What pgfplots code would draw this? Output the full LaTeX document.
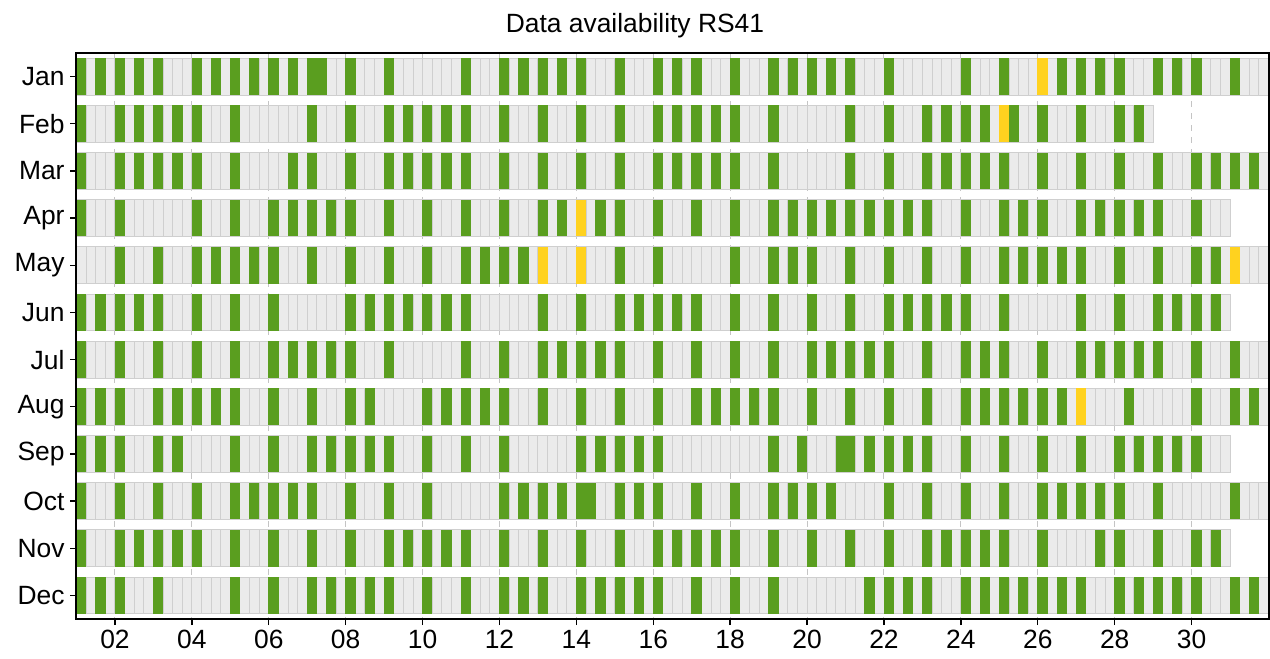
\documentclass[border=0pt]{standalone}
\usepackage{fontspec}
\setmainfont{Liberation Sans}
\usepackage{pgfplots}
\usepackage{pgfplotstable}
\pgfplotsset{compat=1.18}

\definecolor{okgreen}{HTML}{5A9E1F}
\definecolor{partyellow}{HTML}{FFD21F}
\definecolor{cellfill}{HTML}{EBEBEB}
\definecolor{celledge}{HTML}{CFCFCF}
\definecolor{gridgray}{HTML}{C4C4C4}

\def\slotw{4.80645pt}
\def\rowh{18.4pt}

\newcommand\defrowmark[2]{%
\pgfdeclareplotmark{#1}{%
  \pgfsetlinewidth{0.45pt}%
  \pgfsetfillcolor{cellfill}%
  \pgfsetstrokecolor{celledge}%
  \foreach \k in {1,...,#2}{%
    \pgfpathrectangle{\pgfpoint{(\k-1)*\slotw}{-0.5*\rowh}}{\pgfpoint{\slotw}{\rowh}}%
    \pgfusepath{fill,stroke}%
  }%
}}
\defrowmark{row124}{124}
\defrowmark{row120}{120}
\defrowmark{row112}{112}

\pgfdeclareplotmark{cell}{%
  \pgfpathrectangle{\pgfpoint{-0.5*\slotw-0.15pt}{-0.5*\rowh}}{\pgfpoint{\slotw+0.3pt}{\rowh}}%
  \pgfusepathqfill
}

\pgfplotstableread{
m s
1 100
2 96
4 52
5 48
5 52
5 120
8 104
}\partialtab

\pgfplotsset{
  okcell/.style={only marks, mark=cell, mark options={fill=okgreen, draw=none}},
}

\begin{document}
\begin{tikzpicture}
\useasboundingbox (-38.25pt,-20pt) rectangle (596.75pt,309.5pt);
\begin{axis}[
  at={(0,0)}, anchor=south west,
  scale only axis, width=596pt, height=283pt,
  xmin=1, xmax=32, ymin=0.5, ymax=12.5, y dir=reverse,
  xtick={2,4,...,30},
  xticklabels={02,04,06,08,10,12,14,16,18,20,22,24,26,28,30},
  ytick={1,...,12},
  yticklabels={Jan,Feb,Mar,Apr,May,Jun,Jul,Aug,Sep,Oct,Nov,Dec},
  tick align=outside, xtick pos=bottom, ytick pos=left,
  major tick length=3pt,
  every tick/.style={black, line width=0.7pt},
  tick label style={font=\fontsize{13.2}{15}\selectfont},
  xticklabel style={inner sep=2.5pt},
  yticklabel style={inner sep=2.8pt},
  xmajorgrids, major x grid style={dashed, gridgray, line width=0.5pt},
  axis line style={line width=1pt},
  clip=false,
]
% month rows (31, 30 and 28 days)
\addplot[only marks, mark=row124] coordinates {(1,1) (1,3) (1,5) (1,7) (1,8) (1,10) (1,12)};
\addplot[only marks, mark=row120] coordinates {(1,4) (1,6) (1,9) (1,11)};
\addplot[only marks, mark=row112] coordinates {(1,2)};

\addplot[okcell] table[x expr=1.125+\thisrow{s}/4, y expr=1, row sep=\\] {s\\0\\2\\4\\6\\8\\12\\14\\16\\18\\20\\22\\24\\25\\28\\32\\40\\44\\46\\48\\50\\52\\56\\60\\62\\64\\68\\72\\74\\76\\78\\80\\84\\92\\96\\102\\104\\106\\108\\112\\114\\116\\120\\};
\addplot[okcell] table[x expr=1.125+\thisrow{s}/4, y expr=2, row sep=\\] {s\\0\\4\\6\\8\\10\\12\\16\\24\\28\\32\\34\\36\\38\\40\\44\\48\\52\\56\\60\\62\\64\\66\\68\\72\\80\\84\\88\\90\\92\\94\\97\\100\\104\\108\\110\\};
\addplot[okcell] table[x expr=1.125+\thisrow{s}/4, y expr=3, row sep=\\] {s\\0\\4\\6\\8\\10\\12\\16\\22\\24\\28\\32\\34\\36\\38\\40\\44\\48\\52\\56\\60\\62\\64\\66\\68\\72\\80\\84\\88\\90\\92\\94\\96\\100\\104\\108\\112\\116\\118\\120\\122\\};
\addplot[okcell] table[x expr=1.125+\thisrow{s}/4, y expr=4, row sep=\\] {s\\0\\4\\12\\16\\20\\22\\24\\26\\28\\32\\36\\40\\44\\48\\50\\54\\56\\60\\64\\68\\72\\74\\76\\78\\80\\82\\84\\86\\88\\92\\96\\98\\100\\104\\106\\108\\110\\112\\116\\};
\addplot[okcell] table[x expr=1.125+\thisrow{s}/4, y expr=5, row sep=\\] {s\\4\\8\\12\\14\\16\\18\\20\\24\\28\\32\\36\\40\\42\\44\\46\\56\\60\\68\\72\\74\\76\\80\\84\\88\\92\\96\\98\\100\\102\\104\\108\\112\\116\\118\\};
\addplot[okcell] table[x expr=1.125+\thisrow{s}/4, y expr=6, row sep=\\] {s\\0\\2\\4\\6\\8\\12\\16\\20\\28\\30\\32\\34\\36\\38\\40\\48\\52\\56\\58\\60\\62\\64\\68\\72\\76\\80\\84\\86\\88\\90\\92\\96\\104\\108\\112\\114\\116\\118\\};
\addplot[okcell] table[x expr=1.125+\thisrow{s}/4, y expr=7, row sep=\\] {s\\0\\4\\8\\12\\16\\20\\22\\24\\26\\28\\32\\40\\44\\48\\50\\52\\54\\56\\60\\64\\68\\72\\76\\78\\80\\82\\84\\88\\92\\94\\96\\100\\104\\106\\108\\110\\112\\116\\120\\};
\addplot[okcell] table[x expr=1.125+\thisrow{s}/4, y expr=8, row sep=\\] {s\\0\\2\\4\\8\\10\\12\\14\\16\\20\\24\\28\\30\\36\\38\\40\\42\\44\\48\\52\\56\\60\\64\\66\\68\\70\\72\\76\\80\\84\\88\\92\\94\\96\\98\\100\\102\\109\\116\\120\\122\\};
\addplot[okcell] table[x expr=1.125+\thisrow{s}/4, y expr=9, row sep=\\] {s\\0\\2\\4\\8\\10\\16\\20\\24\\26\\28\\30\\32\\36\\40\\44\\52\\54\\56\\58\\60\\72\\75\\79\\80\\82\\84\\86\\88\\92\\96\\100\\104\\108\\110\\112\\114\\116\\};
\addplot[okcell] table[x expr=1.125+\thisrow{s}/4, y expr=10, row sep=\\] {s\\0\\4\\8\\12\\16\\18\\20\\22\\24\\28\\32\\36\\44\\46\\48\\50\\52\\53\\56\\58\\60\\64\\68\\72\\74\\76\\78\\84\\88\\92\\96\\100\\102\\104\\106\\108\\112\\120\\};
\addplot[okcell] table[x expr=1.125+\thisrow{s}/4, y expr=11, row sep=\\] {s\\0\\4\\6\\8\\10\\12\\16\\20\\24\\28\\32\\34\\36\\38\\40\\44\\48\\52\\56\\60\\62\\64\\66\\68\\72\\76\\80\\84\\88\\90\\92\\94\\96\\100\\106\\108\\112\\116\\118\\};
\addplot[okcell] table[x expr=1.125+\thisrow{s}/4, y expr=12, row sep=\\] {s\\0\\2\\4\\8\\16\\20\\24\\26\\28\\30\\32\\36\\40\\44\\46\\48\\52\\54\\56\\58\\60\\64\\68\\72\\82\\84\\86\\88\\92\\94\\96\\98\\100\\102\\104\\108\\110\\112\\114\\116\\120\\122\\};

\addplot[only marks, mark=cell, mark options={fill=partyellow, draw=none}]
  table[x expr=1.125+\thisrow{s}/4, y=m] {\partialtab};
\end{axis}
\draw[line width=1pt] (0,0) rectangle (596pt,283pt);
\node[font=\fontsize{13.2}{15}\selectfont, anchor=base] at (279.25pt,293.3pt) {Data availability RS41};
\end{tikzpicture}
\end{document}
